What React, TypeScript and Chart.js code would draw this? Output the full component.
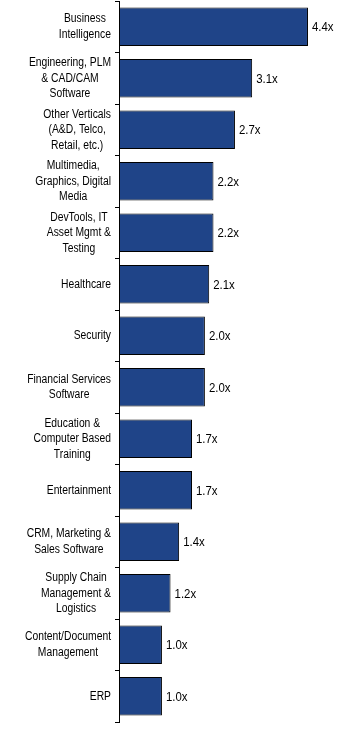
import React, { useEffect, useRef } from "react";
import { Chart, registerables } from "chart.js";

Chart.register(...registerables);

const categories: string[][] = [
  ["Business", "Intelligence"],
  ["Engineering, PLM", "& CAD/CAM", "Software"],
  ["Other Verticals", "(A&D, Telco,", "Retail, etc.)"],
  ["Multimedia,", "Graphics, Digital", "Media"],
  ["DevTools, IT", "Asset Mgmt &", "Testing"],
  ["Healthcare"],
  ["Security"],
  ["Financial Services", "Software"],
  ["Education &", "Computer Based", "Training"],
  ["Entertainment"],
  ["CRM, Marketing &", "Sales Software"],
  ["Supply Chain", "Management &", "Logistics"],
  ["Content/Document", "Management"],
  ["ERP"],
];

const multiples: number[] = [4.4, 3.1, 2.7, 2.2, 2.2, 2.1, 2.0, 2.0, 1.7, 1.7, 1.4, 1.2, 1.0, 1.0];

const FONT = '12px "Liberation Sans", Arial, sans-serif';

const textPlugin = {
  id: "customText",
  afterDraw(chart: any) {
    const ctx = chart.ctx as CanvasRenderingContext2D;
    const yScale = chart.scales.y;
    ctx.save();
    ctx.font = FONT;
    ctx.fillStyle = "#000";
    ctx.textBaseline = "middle";
    // category labels: block right-aligned, lines centred within block
    const sx = 0.86;
    const lineH = 15.5;
    const rightEdge = chart.chartArea.left - 8;
    categories.forEach((lines, i) => {
      const y = yScale.getPixelForValue(i);
      const widths = lines.map((l) => ctx.measureText(l).width * sx);
      const blockW = Math.max(...widths);
      const cx = rightEdge - blockW / 2;
      lines.forEach((line, j) => {
        const ly = y + (j - (lines.length - 1) / 2) * lineH;
        ctx.save();
        ctx.translate(cx, ly);
        ctx.scale(sx, 1);
        ctx.textAlign = "center";
        ctx.fillText(line, 0, 0);
        ctx.restore();
      });
    });
    // value labels
    const meta = chart.getDatasetMeta(0);
    meta.data.forEach((el: any, i: number) => {
      ctx.save();
      ctx.translate(el.x + 4, el.y + 1);
      ctx.scale(0.95, 1);
      ctx.textAlign = "left";
      ctx.fillText(multiples[i].toFixed(1) + "x", 0, 0);
      ctx.restore();
    });
    ctx.restore();
  },
};

export default function App() {
  const ref = useRef<HTMLCanvasElement>(null);
  useEffect(() => {
    if (!ref.current) return;
    const chart = new Chart(ref.current, {
      type: "bar",
      data: {
        labels: categories.map((c) => c.join(" ")),
        datasets: [
          {
            data: multiples,
            backgroundColor: "#1F4488",
            borderColor: "#000000",
            borderWidth: 1,
            borderSkipped: false,
            barPercentage: 0.75,
            categoryPercentage: 1,
          },
        ],
      },
      options: {
        indexAxis: "y",
        responsive: false,
        animation: false,
        devicePixelRatio: 1,
        layout: { padding: { top: 1, bottom: 15, left: 0, right: 0 } },
        plugins: { legend: { display: false }, tooltip: { enabled: false } },
        scales: {
          x: { display: false, min: 0, max: 5.588 },
          y: {
            grid: {
              offset: true,
              drawOnChartArea: false,
              drawTicks: true,
              tickLength: 4,
              color: "#000",
              lineWidth: 1,
            },
            border: { display: true, color: "#000", width: 1 },
            ticks: { display: false },
            afterFit: (s: any) => {
              s.width = 119;
            },
          },
        },
      },
      plugins: [textPlugin],
    } as any);
    return () => chart.destroy();
  }, []);
  return (
    <div style={{ position: "absolute", left: 0, top: 0, width: 359, height: 737 }}>
      <canvas ref={ref} width={359} height={737} />
    </div>
  );
}
